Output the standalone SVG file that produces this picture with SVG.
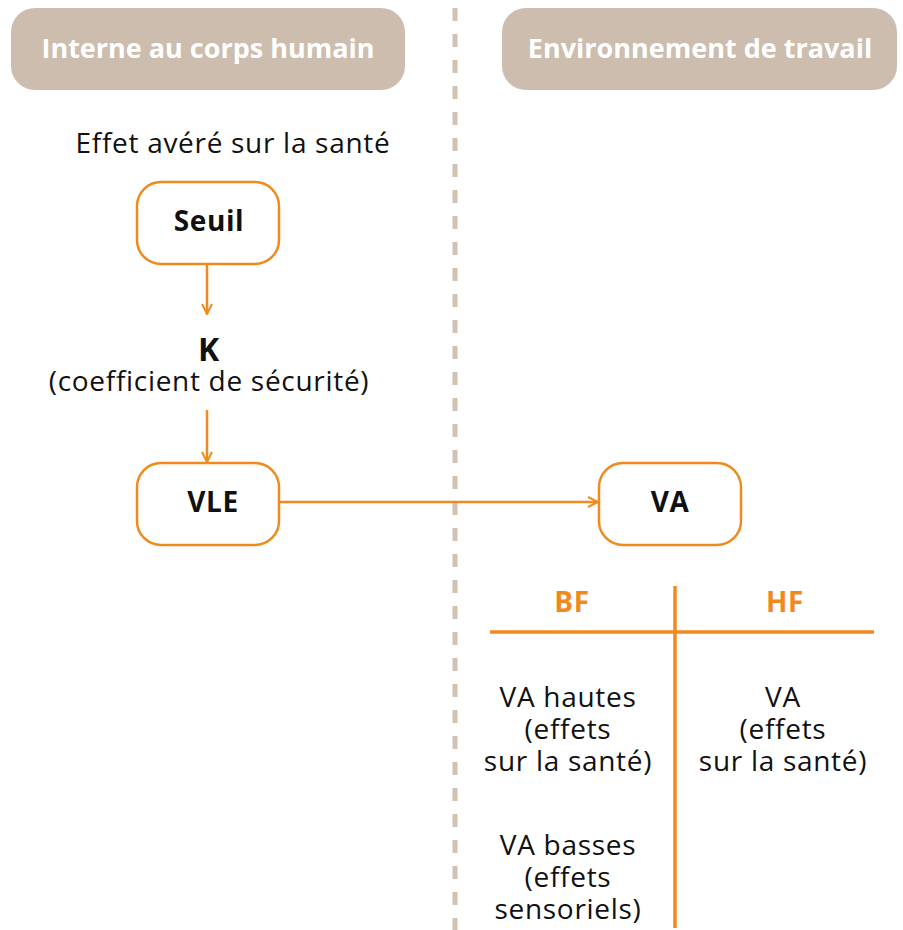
<svg xmlns="http://www.w3.org/2000/svg" width="903" height="930" viewBox="0 0 903 930">
  <defs>
    <style>
      .hdr { fill: #cdbdaf; }
      .hdr-t { font-family: "Open Sans", "Noto Sans", sans-serif; font-weight: bold; font-size: 27px; fill: #ffffff; text-anchor: middle; }
      .box { fill: #ffffff; stroke: #f08a1d; stroke-width: 2.5; }
      .box-t { font-family: "Open Sans", "Noto Sans", sans-serif; font-weight: bold; font-size: 28px; letter-spacing: 0.6px; fill: #111111; text-anchor: middle; }
      .big { font-size: 32px; }
      .txt { font-family: "Open Sans", "Noto Sans", sans-serif; font-size: 28px; letter-spacing: 0.7px; fill: #111111; text-anchor: middle; }
      .col { font-family: "Open Sans", "Noto Sans", sans-serif; font-weight: bold; font-size: 28px; letter-spacing: 0.6px; fill: #f08a1d; text-anchor: middle; }
      .conn { stroke: #f08a1d; stroke-width: 2.5; fill: none; }
      .rule { stroke: #f08a1d; stroke-width: 3.5; fill: none; }
      .divider { stroke: #d0c1b3; stroke-width: 5; stroke-dasharray: 13 13; }
    </style>
    <marker id="arrow" viewBox="0 0 12 12" refX="11" refY="6" markerWidth="12" markerHeight="12" markerUnits="userSpaceOnUse" orient="auto">
      <path d="M1,1 L11,6 L1,11" fill="none" stroke="#f08a1d" stroke-width="2"/>
    </marker>
  </defs>

  <rect width="903" height="930" fill="#ffffff"/>

  <!-- central divider -->
  <line class="divider" x1="455" y1="8" x2="455" y2="930"/>

  <!-- column headers -->
  <g id="header-internal">
    <rect class="hdr" x="11" y="8" width="394" height="82" rx="24"/>
    <text class="hdr-t" x="208" y="58">Interne au corps humain</text>
  </g>
  <g id="header-work">
    <rect class="hdr" x="502" y="8" width="395" height="82" rx="24"/>
    <text class="hdr-t" x="700" y="58">Environnement de travail</text>
  </g>

  <g id="effect-label">
    <text class="txt" x="233" y="153">Effet avéré sur la santé</text>
  </g>

  <g id="seuil">
    <rect class="box" x="137" y="182" width="142" height="82" rx="24"/>
    <text class="box-t" x="209" y="231">Seuil</text>
  </g>

  <g id="k">
    <text class="box-t big" x="209" y="361">K</text>
    <text class="txt" x="209" y="391">(coefficient de sécurité)</text>
  </g>

  <g id="vle">
    <rect class="box" x="137" y="463" width="142" height="82" rx="24"/>
    <text class="box-t" x="213" y="512">VLE</text>
  </g>

  <g id="va">
    <rect class="box" x="599" y="463" width="142" height="82" rx="24"/>
    <text class="box-t" x="670" y="512">VA</text>
  </g>

  <g id="connectors">
    <line class="conn" x1="207" y1="264" x2="207" y2="314" marker-end="url(#arrow)"/>
    <line class="conn" x1="207" y1="410" x2="207" y2="462" marker-end="url(#arrow)"/>
    <line class="conn" x1="279" y1="502" x2="598" y2="502" marker-end="url(#arrow)"/>
  </g>

  <!-- frequency table -->
  <g id="freq-table">
    <line class="rule" x1="675" y1="586" x2="675" y2="928"/>
    <line class="rule" x1="490" y1="632" x2="874" y2="632"/>
    <text class="col" x="572" y="612">BF</text>
    <text class="col" x="785" y="612">HF</text>
    <text class="txt" x="568" y="707">VA hautes</text>
    <text class="txt" x="568" y="739">(effets</text>
    <text class="txt" x="568" y="771">sur la santé)</text>
    <text class="txt" x="783" y="707">VA</text>
    <text class="txt" x="783" y="739">(effets</text>
    <text class="txt" x="783" y="771">sur la santé)</text>
    <text class="txt" x="568" y="855">VA basses</text>
    <text class="txt" x="568" y="887">(effets</text>
    <text class="txt" x="568" y="919">sensoriels)</text>
  </g>
</svg>
